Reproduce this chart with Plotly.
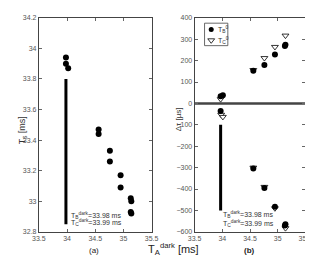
import plotly.graph_objects as go

# Panel (a): T_s vs T_A^dark
a_x = [33.98, 33.98, 34.02, 34.56, 34.56, 34.76, 34.76, 34.95, 34.95, 35.13, 35.14, 35.13, 35.14]
a_y = [33.94, 33.90, 33.87, 33.47, 33.44, 33.33, 33.26, 33.17, 33.09, 33.02, 33.00, 32.93, 32.92]
a_line_x = [33.98, 33.98]
a_line_y = [33.80, 32.85]

# Panel (b): delta tau vs T_A^dark
b_circ_x = [33.97, 34.01, 33.97, 34.56, 34.76, 34.95, 35.14, 35.13, 34.56, 34.76, 34.95, 35.14, 35.13]
b_circ_y = [33, 38, -35, 153, 180, 229, 274, 268, -304, -395, -483, -565, -571]
b_tri_x = [33.97, 33.98, 34.01, 34.56, 34.76, 34.95, 35.14, 34.56, 34.76, 34.95, 35.14]
b_tri_y = [20, -53, -63, 156, 212, 264, 317, -300, -390, -490, -583]
b_line_x = [33.97, 33.97]
b_line_y = [-100, -500]

x_ticks = [33.5, 34, 34.5, 35, 35.5]
a_yticks = [32.8, 33, 33.2, 33.4, 33.6, 33.8, 34, 34.2]
b_yticks = [-600, -500, -400, -300, -200, -100, 0, 100, 200, 300, 400]

fig = go.Figure()
fig.add_trace(go.Scatter(x=a_line_x, y=a_line_y, mode="lines",
                         line=dict(color="black", width=3), xaxis="x", yaxis="y", showlegend=False))
fig.add_trace(go.Scatter(x=a_x, y=a_y, mode="markers",
                         marker=dict(color="black", size=6), xaxis="x", yaxis="y", showlegend=False))
fig.add_trace(go.Scatter(x=[33.5, 35.5], y=[0, 0], mode="lines",
                         line=dict(color="#444", width=2.5), xaxis="x2", yaxis="y2", showlegend=False))
fig.add_trace(go.Scatter(x=b_line_x, y=b_line_y, mode="lines",
                         line=dict(color="black", width=3), xaxis="x2", yaxis="y2", showlegend=False))
fig.add_trace(go.Scatter(x=b_tri_x, y=b_tri_y, mode="markers",
                         marker=dict(color="white", symbol="triangle-down", size=6,
                                     line=dict(color="black", width=0.8)),
                         xaxis="x2", yaxis="y2", showlegend=False))
fig.add_trace(go.Scatter(x=b_circ_x, y=b_circ_y, mode="markers",
                         marker=dict(color="black", size=6), xaxis="x2", yaxis="y2", showlegend=False))

# legend drawn manually inside panel (b)
fig.add_trace(go.Scatter(x=[33.8], y=[345], mode="markers", marker=dict(color="black", size=5),
                         xaxis="x2", yaxis="y2", showlegend=False, hoverinfo="skip"))
fig.add_trace(go.Scatter(x=[33.8], y=[295], mode="markers",
                         marker=dict(color="white", symbol="triangle-down", size=6,
                                     line=dict(color="black", width=0.8)),
                         xaxis="x2", yaxis="y2", showlegend=False, hoverinfo="skip"))

tickfont = dict(family="Liberation Sans, Arial", size=7, color="#555")
common_ax = dict(showgrid=False, zeroline=False, ticks="inside", ticklen=3, mirror="ticks",
                 showline=True, linecolor="#444", linewidth=1, tickfont=tickfont,
                 tickcolor="#666")

fig.update_layout(
    width=313, height=256, margin=dict(l=0, r=0, t=0, b=0),
    paper_bgcolor="white", plot_bgcolor="white",
    xaxis=dict(domain=[25/313, 143/313], range=[33.5, 35.5], tickvals=x_ticks,
               ticktext=["33.5", "34", "34.5", "35", "35.5"], anchor="y", **common_ax),
    yaxis=dict(domain=[1-226/256, 1-6/256], range=[32.8, 34.2], tickvals=a_yticks,
               ticktext=["32.8", "33", "33.2", "33.4", "33.6", "33.8", "34", "34.2"],
               anchor="x", **common_ax),
    xaxis2=dict(domain=[188/313, 304/313], range=[33.5, 35.5], tickvals=x_ticks,
                ticktext=["33.5", "34", "34.5", "35", "35.5"], anchor="y2", **common_ax),
    yaxis2=dict(domain=[1-226/256, 1-6/256], range=[-600, 400], tickvals=b_yticks,
                ticktext=["\u2212600", "\u2212500", "\u2212400", "\u2212300", "\u2212200", "\u2212100",
                          "0", "100", "200", "300", "400"],
                anchor="x2", **common_ax),
    shapes=[dict(type="rect", xref="x2", yref="y2", x0=33.68, x1=34.1, y0=270, y1=375,
                 line=dict(color="#444", width=0.8), fillcolor="white", layer="below")],
)

txt = dict(family="Liberation Sans, Arial", size=7, color="#333")
ann = [
    dict(x=34.03, y=32.905, xref="x", yref="y", xanchor="left", yanchor="middle", showarrow=False,
         text="T<sub>B</sub><sup>dark</sup>=33.98 ms", font=txt),
    dict(x=34.03, y=32.86, xref="x", yref="y", xanchor="left", yanchor="middle", showarrow=False,
         text="T<sub>C</sub><sup>dark</sup>=33.99 ms", font=txt),
    dict(x=33.98, y=-520, xref="x2", yref="y2", xanchor="left", yanchor="middle", showarrow=False,
         text="T<sub>B</sub><sup>dark</sup>=33.98 ms", font=txt),
    dict(x=33.98, y=-560, xref="x2", yref="y2", xanchor="left", yanchor="middle", showarrow=False,
         text="T<sub>C</sub><sup>dark</sup>=33.99 ms", font=txt),
    dict(x=33.88, y=345, xref="x2", yref="y2", xanchor="left", yanchor="middle", showarrow=False,
         text="T<sub>B</sub><sup>0</sup>", font=txt),
    dict(x=33.88, y=295, xref="x2", yref="y2", xanchor="left", yanchor="middle", showarrow=False,
         text="T<sub>C</sub><sup>0</sup>", font=txt),
    dict(x=8/313, y=1-122/256, xref="paper", yref="paper", xanchor="center", yanchor="middle",
         showarrow=False, textangle=-90,
         text="T<sub>s</sub> [ms]", font=dict(family="Liberation Sans, Arial", size=9, color="#333")),
    dict(x=172/313, y=1-110/256, xref="paper", yref="paper", xanchor="center", yanchor="middle",
         showarrow=False, textangle=-90,
         text="\u0394\u03c4 [\u00b5s]", font=dict(family="Liberation Sans, Arial", size=8, color="#333")),
    dict(x=166/313, y=1-244/256, xref="paper", yref="paper", xanchor="center", yanchor="middle",
         showarrow=False,
         text="T<sub>A</sub><sup>dark</sup> [ms]", font=dict(family="Liberation Sans, Arial", size=11, color="#222")),
    dict(x=83/313, y=1-245/256, xref="paper", yref="paper", xanchor="center", yanchor="middle",
         showarrow=False,
         text="(a)", font=dict(family="Liberation Sans, Arial", size=8, color="#222")),
    dict(x=245/313, y=1-245/256, xref="paper", yref="paper", xanchor="center", yanchor="middle",
         showarrow=False,
         text="<b>(b)</b>", font=dict(family="Liberation Sans, Arial", size=8, color="#222")),
]
fig.update_layout(annotations=ann)
fig.write_html("out.html")
